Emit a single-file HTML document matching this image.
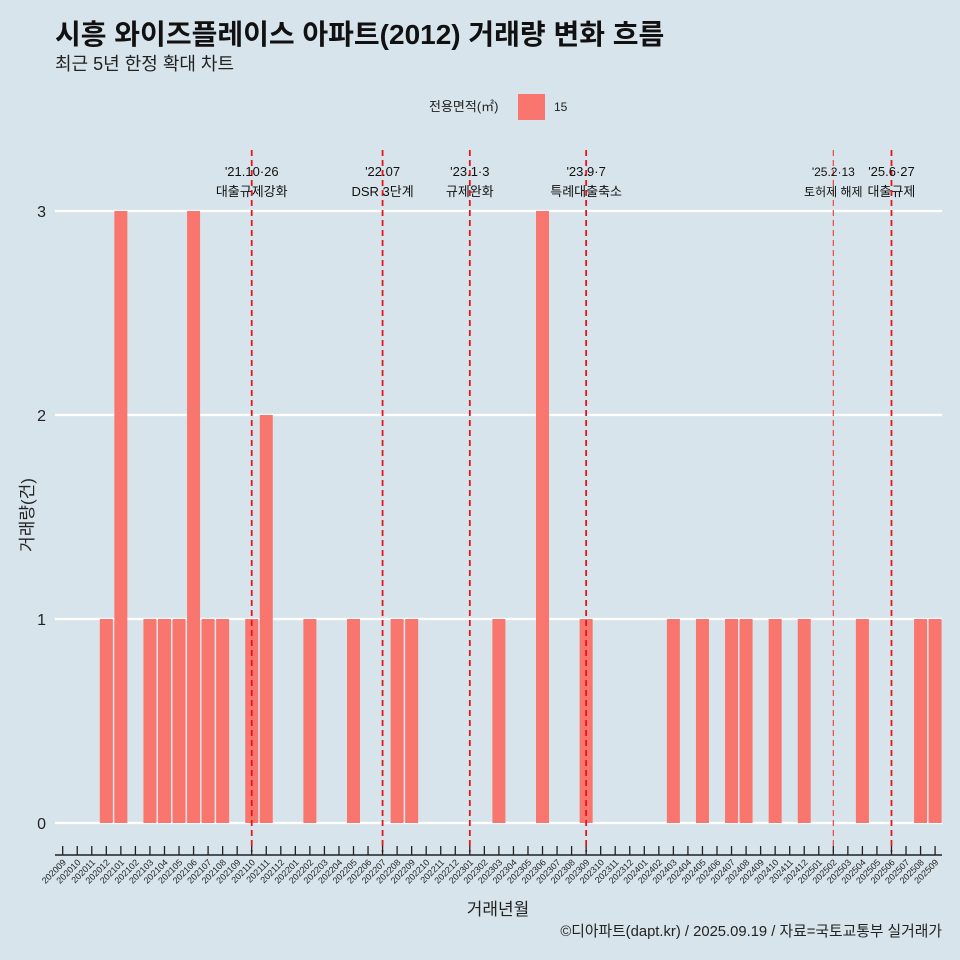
<!DOCTYPE html>
<html><head><meta charset="utf-8"><style>
body{margin:0;background:#d7e4eb;}
svg{display:block;font-family:"Liberation Sans","Noto Sans CJK KR",sans-serif;}
</style></head><body>
<svg id="c" width="960" height="960" viewBox="0 0 960 960">
<rect width="960" height="960" fill="#d7e4eb"/>
<text x="55" y="44" font-size="28" font-weight="bold" fill="#111">시흥 와이즈플레이스 아파트(2012) 거래량 변화 흐름</text>
<text x="55" y="70" font-size="18" fill="#222">최근 5년 한정 확대 차트</text>
<g>
<text x="429" y="111" font-size="13" fill="#222">전용면적(㎡)</text>
<rect x="518" y="94" width="27" height="26" fill="#f8766d"/>
<text x="554" y="111" font-size="12" fill="#222">15</text>
</g>
<g id="grid"></g><g id="bars"></g><g id="events"></g><g id="xaxis"></g>
<text transform="translate(33,515) rotate(-90)" text-anchor="middle" font-size="17" fill="#222">거래량(건)</text>
<text x="498" y="915" text-anchor="middle" font-size="17" fill="#222">거래년월</text>
<text x="942" y="936" text-anchor="end" font-size="14.8" fill="#222">©디아파트(dapt.kr) / 2025.09.19 / 자료=국토교통부 실거래가</text>
</svg>
<script>
const categories=[];
for(let y=2020,m=9;y<2025||(y===2025&&m<=9);){categories.push(y+String(m).padStart(2,'0'));m++;if(m>12){m=1;y++;}}
const barMonths=["202012","202101","202103","202104","202105","202106","202107","202108","202110","202111","202202","202205","202208","202209","202303","202306","202309","202403","202405","202407","202408","202410","202412","202504","202508","202509"];
const barValues=[1,3,1,1,1,3,1,1,1,2,1,1,1,1,1,3,1,1,1,1,1,1,1,1,1,1];
const yTicks=[0,1,2,3];
const eventMonths=["202110","202207","202301","202309","202502","202506"];
const eventDates=["'21.10·26","'22.07","'23.1·3","'23.9·7","'25.2·13","'25.6·27"];
const eventLabels=["대출규제강화","DSR 3단계","규제완화","특례대출축소","토허제 해제","대출규제"];
const NS="http://www.w3.org/2000/svg";
const x0=62.7,step=14.54;
const xs=c=>x0+categories.indexOf(c)*step;
const ys=v=>823-v*204;
function mk(t,a,p){const e=document.createElementNS(NS,t);for(const k in a)e.setAttribute(k,a[k]);document.getElementById(p).appendChild(e);return e;}
yTicks.forEach(v=>{
 const l=mk('line',{x1:55,x2:942,y1:ys(v),y2:ys(v),stroke:'#fff','stroke-width':2.2},'grid');
 
 
 const t=mk('text',{x:46,y:ys(v)+6,'text-anchor':'end','font-size':16,fill:'#222'},'grid');t.textContent=v;
 
 
});
barMonths.forEach((c,i)=>{
 const r=mk('rect',{x:xs(c)-6.5,y:ys(barValues[i]),width:13,height:ys(0)-ys(barValues[i]),fill:'#f8766d'},'bars');
 
 
});
eventMonths.forEach((c,i)=>{
 const x=xs(c),thin=c==="202502";
 const l=mk('line',{x1:x,x2:x,y1:150,y2:852,stroke:thin?'#ee4444':'#e8151b','stroke-width':thin?1.2:1.8,'stroke-dasharray':'6,4'},'events');
 
 
 const fs=thin?12:13;
 const t1=mk('text',{x:x,y:176,'text-anchor':'middle','font-size':fs,fill:'#111'},'events');t1.textContent=eventDates[i];
 
 
 const t2=mk('text',{x:x,y:196,'text-anchor':'middle','font-size':fs,fill:'#111'},'events');t2.textContent=eventLabels[i];
 
 
});
const ax=mk('line',{x1:55,x2:942,y1:855,y2:855,stroke:'#222','stroke-width':1.5},'xaxis');


categories.forEach(c=>{
 const x=xs(c);
 mk('line',{x1:x,x2:x,y1:846,y2:855,stroke:'#222','stroke-width':1.3},'xaxis');
 const t=mk('text',{transform:`translate(${x+4},863) rotate(-45)`,'text-anchor':'end','font-size':9,fill:'#222'},'xaxis');t.textContent=c;
 
 
});
</script>
</body></html>
